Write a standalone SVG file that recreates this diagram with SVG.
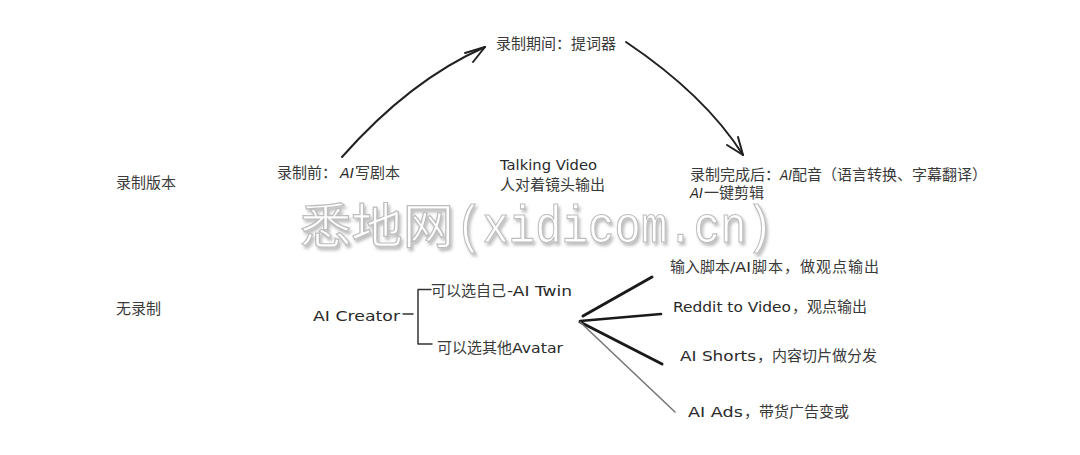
<svg xmlns="http://www.w3.org/2000/svg" width="1080" height="455" viewBox="0 0 1080 455">
<defs>
<style>
.cj{font-family:"Noto Sans CJK SC","Noto Sans",sans-serif;font-size:15px;fill:#3a3a3a}
.hw{font-family:"DejaVu Sans","Noto Sans",sans-serif;font-size:14px;fill:#2a2a2a}
.ai{font-style:italic}
.arrow{fill:none;stroke:#222;stroke-width:2;stroke-linecap:round;stroke-linejoin:round}
.br{fill:none;stroke:#333;stroke-width:1.5;stroke-linecap:round}
.fan{fill:none;stroke:#1a1a1a;stroke-width:3;stroke-linecap:round}
.fanthin{fill:none;stroke:#777;stroke-width:1.6;stroke-linecap:round}
.wmc{font-family:"Noto Sans CJK SC",sans-serif;font-size:48px;fill:#fff;stroke:#bdbdbd;stroke-width:1.2}
.wml{font-family:"Liberation Mono",monospace;font-size:52px;fill:#fff;stroke:#bdbdbd;stroke-width:1.2}
</style>
<filter id="sh" x="-5%" y="-20%" width="110%" height="150%">
<feDropShadow dx="2" dy="3" stdDeviation="1.8" flood-color="#8a8a8a" flood-opacity="0.55"/>
</filter>
</defs>
<rect width="1080" height="455" fill="#ffffff"/>

<g id="connectors">
<path class="arrow" d="M342,157 Q410,80 485,47"/>
<path class="arrow" d="M465,53 L485,47 L473,62"/>
<path class="arrow" d="M626,42 Q705,95 743,155"/>
<path class="arrow" d="M727,145 L743,155 L738,137"/>
<path class="br" d="M403,314 L413,314"/>
<path class="br" d="M418,289.5 L418,344 M418,289.5 L431,289.5 M418,344 L432,344"/>
<path class="fan" d="M583,316 L652,277"/>
<path class="fan" d="M580,321 L661,314" style="stroke-width:2.6"/>
<path class="fan" d="M580,322 L662,364"/>
<path class="fanthin" d="M580,322 L675,412"/>
</g>

<g id="node-recorded">
<text class="cj" x="116" y="188">录制版本</text>
</g>
<g id="node-unrecorded">
<text class="cj" x="116" y="314">无录制</text>
</g>
<g id="node-before">
<text class="cj" x="277" y="178">录制前：</text>
<text class="hw ai" x="340" y="178" textLength="14" lengthAdjust="spacingAndGlyphs">AI</text>
<text class="cj" x="355" y="178">写剧本</text>
</g>
<g id="node-during">
<text class="cj" x="496" y="49">录制期间：提词器</text>
</g>
<g id="node-talking">
<text class="hw" x="500" y="170" textLength="97" lengthAdjust="spacingAndGlyphs">Talking Video</text>
<text class="cj" x="500" y="190">人对着镜头输出</text>
</g>
<g id="node-after">
<text class="cj" x="690" y="180">录制完成后：</text>
<text class="hw ai" x="780" y="180" textLength="12" lengthAdjust="spacingAndGlyphs">AI</text>
<text class="cj" x="792" y="180">配音（语言转换、字幕翻译）</text>
<text class="hw ai" x="690" y="198" textLength="13" lengthAdjust="spacingAndGlyphs">AI</text>
<text class="cj" x="704" y="198">一键剪辑</text>
</g>
<g id="node-creator">
<text class="hw" x="313" y="321" textLength="87" lengthAdjust="spacingAndGlyphs">AI Creator</text>
</g>
<g id="node-twin">
<text class="cj" x="431" y="296">可以选自己</text>
<text class="hw" x="507" y="296" textLength="65" lengthAdjust="spacingAndGlyphs">-AI Twin</text>
</g>
<g id="node-avatar">
<text class="cj" x="437" y="353">可以选其他</text>
<text class="hw" x="512" y="353" textLength="51" lengthAdjust="spacingAndGlyphs">Avatar</text>
</g>
<g id="node-script">
<text class="cj" x="670" y="272">输入脚本</text>
<text class="hw" x="730" y="272" textLength="21" lengthAdjust="spacingAndGlyphs">/AI</text>
<text class="cj" x="752" y="272" textLength="127" lengthAdjust="spacing">脚本，做观点输出</text>
</g>
<g id="node-reddit">
<text class="hw" x="673" y="312" textLength="118" lengthAdjust="spacingAndGlyphs">Reddit to Video</text>
<text class="cj" x="792" y="312">，观点输出</text>
</g>
<g id="node-shorts">
<text class="hw" x="680" y="361" textLength="76" lengthAdjust="spacingAndGlyphs">AI Shorts</text>
<text class="cj" x="757" y="361">，内容切片做分发</text>
</g>
<g id="node-ads">
<text class="hw" x="688" y="417" textLength="55" lengthAdjust="spacingAndGlyphs">AI Ads</text>
<text class="cj" x="744" y="417">，带货广告变或</text>
</g>

<g id="watermark" filter="url(#sh)">
<text class="wmc" x="300" y="243" textLength="154" lengthAdjust="spacingAndGlyphs">悉地网</text>
<text class="wml" x="456" y="242" textLength="317" lengthAdjust="spacingAndGlyphs">(xidicom.cn)</text>
</g>
</svg>
